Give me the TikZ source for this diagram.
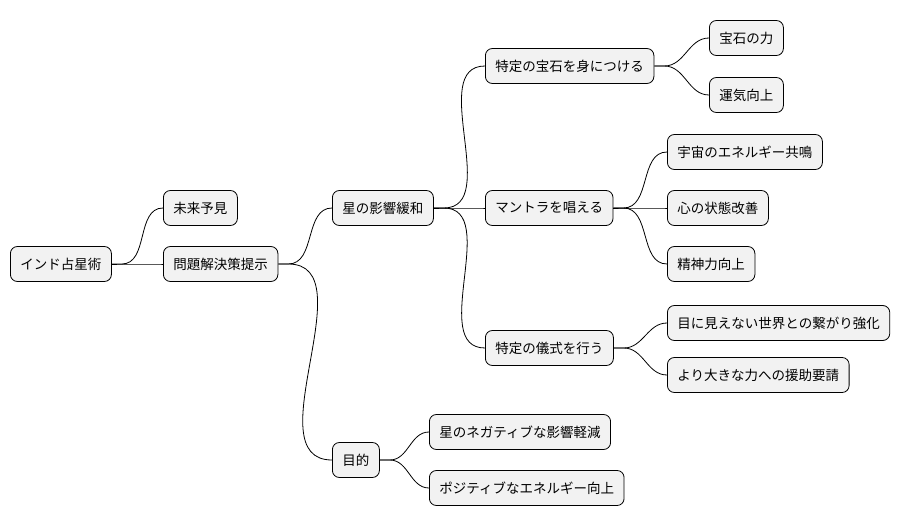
\documentclass[tikz,border=0pt]{standalone}
\usepackage{fontspec}
\setmainfont{Noto Sans CJK JP}
\usetikzlibrary{positioning}
\tikzset{topic/.style={rectangle, draw, fill=black!5, rounded corners=7pt,
    minimum height=35pt, inner xsep=10pt, anchor=west,
    font=\fontsize{13.5}{16}\selectfont},
  branch/.style={draw, line width=0.8pt}}
\begin{document}
\begin{tikzpicture}[x=1pt, y=-1pt, line width=0.8pt]
    \useasboundingbox (0,0) rectangle (908,527);
    \node[topic] (root) at (10,264) {インド占星術};
    \node[topic] (future) at (163,208) {未来予見};
    \node[topic] (solve) at (163,264) {問題解決策提示};
    \node[topic] (ease) at (332,208) {星の影響緩和};
    \node[topic] (goal) at (332,460) {目的};
    \node[topic] (gem) at (485,66) {特定の宝石を身につける};
    \node[topic] (mantra) at (485,208) {マントラを唱える};
    \node[topic] (ritual) at (485,348) {特定の儀式を行う};
    \node[topic] (gemPower) at (709,38) {宝石の力};
    \node[topic] (luck) at (709,95) {運気向上};
    \node[topic] (cosmos) at (667,152) {宇宙のエネルギー共鳴};
    \node[topic] (mind) at (667,208) {心の状態改善};
    \node[topic] (spirit) at (667,264) {精神力向上};
    \node[topic] (unseen) at (667,323) {目に見えない世界との繋がり強化};
    \node[topic] (help) at (667,375) {より大きな力への援助要請};
    \node[topic] (negative) at (429,432) {星のネガティブな影響軽減};
    \node[topic] (positive) at (429,488) {ポジティブなエネルギー向上};

    \foreach \a/\b in {root/future, root/solve, solve/ease, solve/goal,
        ease/gem, ease/mantra, ease/ritual, gem/gemPower, gem/luck,
        mantra/cosmos, mantra/mind, mantra/spirit, ritual/unseen, ritual/help,
        goal/negative, goal/positive}
      \path[branch] (\a.east) -- ++(10,0) to[out=0, in=180] (\b.west);
\end{tikzpicture}
\end{document}
